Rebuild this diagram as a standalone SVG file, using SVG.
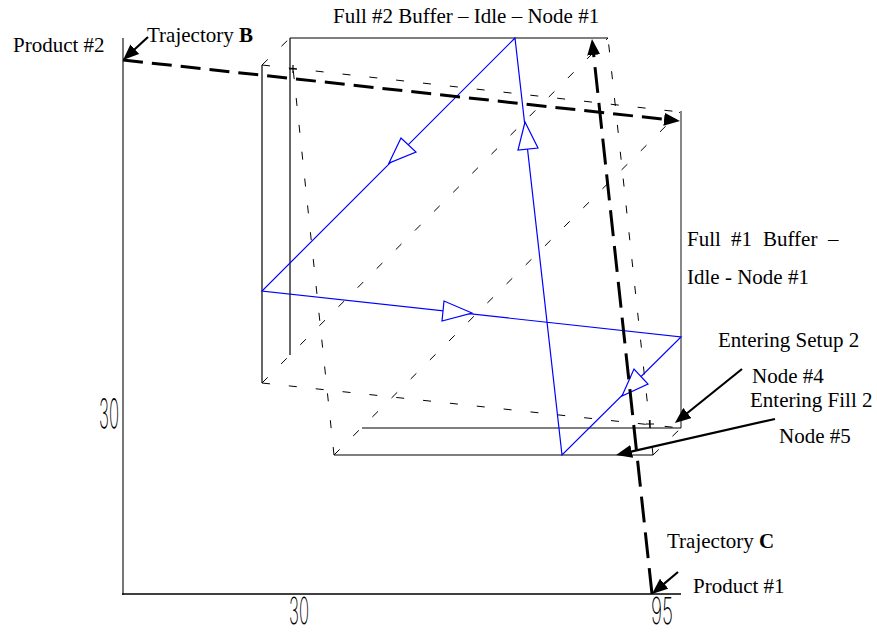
<svg xmlns="http://www.w3.org/2000/svg" width="877" height="633" viewBox="0 0 877 633">
<defs>
<style>
.t{font-family:"Liberation Serif","Times New Roman",serif;font-size:21px;fill:#000}
.b{font-weight:bold}
.num{font-family:Inter,"Liberation Sans",sans-serif;font-weight:200;font-size:41px;fill:#000}
.num2{font-family:Inter,"Liberation Sans",sans-serif;font-weight:200;font-size:37px;fill:#000}
.solid{stroke:#000;stroke-width:1.2;fill:none}
.dash{stroke:#000;stroke-width:1;fill:none;stroke-dasharray:8 19}
.blue{stroke:#0000ff;stroke-width:1.2;fill:none}
.bhead{stroke:#0000ff;stroke-width:1.2;fill:#fff}
.traj{stroke:#000;stroke-width:3;fill:none}
.ptr{stroke:#000;stroke-width:2.2;fill:none}
</style>
<marker id="ah" viewBox="0 0 16 13" markerUnits="userSpaceOnUse" markerWidth="16" markerHeight="13" refX="12" refY="6.5" orient="auto">
<path d="M0,0 L16,6.5 L0,13 z" fill="#000"/>
</marker>
</defs>
<rect width="877" height="633" fill="#fff"/>

<g id="axes">
<line x1="123" y1="38" x2="123" y2="595" stroke="#777" stroke-width="2"/>
<line x1="122" y1="594" x2="681" y2="594" stroke="#000" stroke-width="1.5"/>
</g>

<g id="prism">
<line class="solid" x1="290" y1="38" x2="608" y2="38"/>
<line class="solid" x1="290" y1="38" x2="290" y2="355"/>
<line class="solid" x1="262" y1="65" x2="262" y2="383"/>
<line x1="681" y1="111" x2="681" y2="428" stroke="#555" stroke-width="1.4"/>
<line class="solid" x1="362" y1="428" x2="681" y2="428"/>
<line class="solid" x1="334" y1="455" x2="653" y2="455"/>
<line class="dash" x1="262" y1="65" x2="680" y2="112"/>
<line class="dash" x1="262" y1="65" x2="290" y2="38"/>
<line class="dash" x1="334" y1="455" x2="293" y2="68"/>
<line class="dash" x1="653" y1="455" x2="608" y2="38"/>
<line class="dash" x1="262" y1="383" x2="680" y2="428"/>
<line class="dash" x1="262" y1="383" x2="608" y2="38"/>
<line class="dash" x1="334" y1="455" x2="680" y2="112"/>
<line class="dash" x1="653" y1="455" x2="681" y2="428"/>
<path class="solid" d="M289,69 H297 M293,65 V73 M646,424 H654 M650,420 V428" stroke-width="1"/>
</g>

<g id="cycle">
<path class="blue" d="M515,38 L262,291 L681,337 L562,455 Z"/>
<polygon class="bhead" points="389,163 401,138 416,152"/>
<polygon class="bhead" points="472,313 444,301 442,321"/>
<polygon class="bhead" points="622,396 634,369 648,384"/>
<polygon class="bhead" points="525,122 518,150 538,148"/>
</g>

<g id="connectors">
<line class="traj" x1="123" y1="60" x2="676" y2="120.6" stroke-dasharray="20 9" marker-end="url(#ah)"/>
<line class="traj" x1="652" y1="594" x2="592.4" y2="43" stroke-dasharray="26 10" marker-end="url(#ah)"/>
<line class="ptr" x1="148" y1="37" x2="126" y2="57.3" marker-end="url(#ah)"/>
<line class="ptr" x1="742" y1="369" x2="678" y2="420.5" marker-end="url(#ah)"/>
<line class="ptr" x1="775" y1="419" x2="620" y2="454.1" marker-end="url(#ah)"/>
<line class="ptr" x1="678" y1="572" x2="655" y2="591.4" marker-end="url(#ah)"/>
</g>

<g id="labels">
<text class="t" x="13" y="52">Product #2</text>
<text class="t" x="147" y="42">Trajectory <tspan class="b">B</tspan></text>
<text class="t" x="333" y="23">Full #2 Buffer – Idle – Node #1</text>
<text class="t" y="246"><tspan x="687">Full</tspan><tspan x="731">#1</tspan><tspan x="763">Buffer</tspan><tspan x="828">–</tspan></text>
<text class="t" x="687" y="284">Idle - Node #1</text>
<text class="t" x="718" y="347">Entering Setup 2</text>
<text class="t" x="752" y="383">Node #4</text>
<text class="t" x="750" y="407">Entering Fill 2</text>
<text class="t" x="779" y="443">Node #5</text>
<text class="t" x="667" y="548">Trajectory <tspan class="b">C</tspan></text>
<text class="t" x="693" y="593">Product #1</text>
<text class="num" x="99" y="428" textLength="20" lengthAdjust="spacingAndGlyphs">30</text>
<text class="num2" x="289" y="624" textLength="20" lengthAdjust="spacingAndGlyphs">30</text>
<text class="num2" x="651" y="624" textLength="22" lengthAdjust="spacingAndGlyphs">95</text>
</g>
</svg>
